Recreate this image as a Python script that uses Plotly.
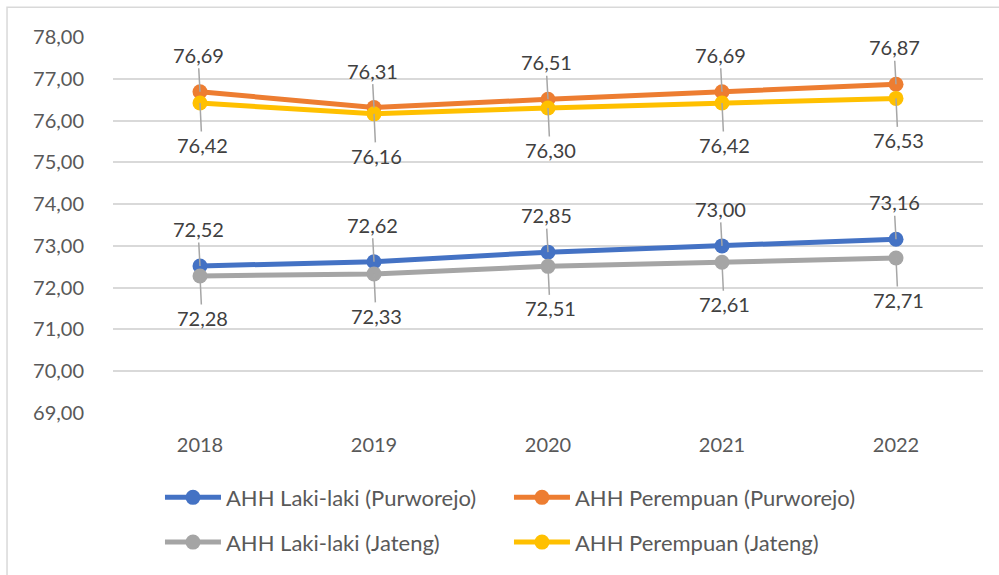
import plotly.graph_objects as go

years = [2018, 2019, 2020, 2021, 2022]
laki_purworejo = [72.52, 72.62, 72.85, 73.00, 73.16]
perempuan_purworejo = [76.69, 76.31, 76.51, 76.69, 76.87]
laki_jateng = [72.28, 72.33, 72.51, 72.61, 72.71]
perempuan_jateng = [76.42, 76.16, 76.30, 76.42, 76.53]
y_ticks = [69, 70, 71, 72, 73, 74, 75, 76, 77, 78]

series = [
    ("AHH Laki-laki (Purworejo)", laki_purworejo, "#4472C4", "legend", "above"),
    ("AHH Perempuan (Purworejo)", perempuan_purworejo, "#ED7D31", "legend", "above"),
    ("AHH Laki-laki (Jateng)", laki_jateng, "#A5A5A5", "legend2", "below"),
    ("AHH Perempuan (Jateng)", perempuan_jateng, "#FFC000", "legend2", "below"),
]

FONT = "Lato"
fig = go.Figure()
for name, vals, color, leg, pos in series:
    fig.add_trace(go.Scatter(
        x=years, y=vals, name=name, mode="lines+markers",
        line=dict(color=color, width=5),
        marker=dict(color=color, size=15),
        legend=leg,
    ))

for name, vals, color, leg, pos in series:
    for xv, yv in zip(years, vals):
        fig.add_annotation(
            x=xv, y=yv, xref="x", yref="y",
            text=f"{yv:.2f}".replace(".", ","),
            showarrow=True, arrowhead=0, arrowwidth=1.5, arrowcolor="#A6A6A6",
            ax=-2 if pos == "above" else 2,
            ay=-37 if pos == "above" else 42,
            font=dict(family=FONT, size=20, color="#404040"),
        )

legend_common = dict(orientation="h", x=0.054, xanchor="left", yanchor="middle",
                     entrywidth=278, entrywidthmode="pixels", itemwidth=56,
                     font=dict(family=FONT, size=22, color="#595959"),
                     traceorder="normal", bgcolor="rgba(0,0,0,0)")

fig.update_layout(
    width=999, height=575,
    margin=dict(l=113, r=16, t=37, b=160),
    paper_bgcolor="white", plot_bgcolor="white",
    separators=",.",
    font=dict(family=FONT, size=20, color="#595959"),
    showlegend=True,
    legend=dict(y=-0.2249, **legend_common),
    legend2=dict(y=-0.3439, **legend_common),
    shapes=[dict(type="rect", xref="paper", yref="paper",
                 x0=-0.1218, x1=1.2, y0=-0.6, y1=1.0794,
                 line=dict(color="#D9D9D9", width=1.5), fillcolor="rgba(0,0,0,0)",
                 layer="below")],
)
fig.update_xaxes(range=[2017.5, 2022.5], tickvals=years, tickformat="d",
                 showgrid=False, showline=False, zeroline=False,
                 ticks="", ticklabelstandoff=18,
                 tickfont=dict(family=FONT, size=20, color="#595959"))
fig.update_yaxes(range=[69, 78], tickvals=y_ticks, tickformat=".2f",
                 showgrid=True, gridcolor="#D9D9D9", gridwidth=1.5,
                 zeroline=False, showline=False, ticks="", ticklabelstandoff=28,
                 tickfont=dict(family=FONT, size=20, color="#595959"))

fig.write_html("out.html", config={"displayModeBar": False},
               post_script="document.body.style.margin='0px';")
